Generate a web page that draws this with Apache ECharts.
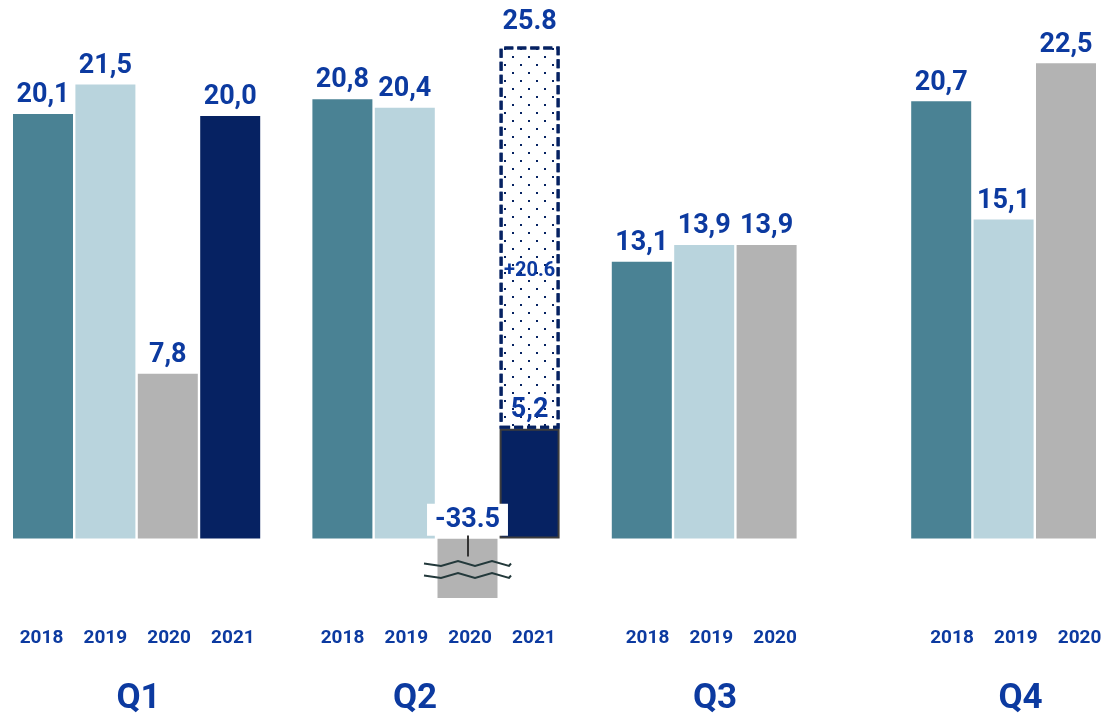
<!DOCTYPE html>
<html>
<head>
<meta charset="utf-8">
<script src="https://cdn.jsdelivr.net/npm/echarts@6/dist/echarts.min.js"></script>
<style>
  html, body { margin: 0; padding: 0; background: #ffffff; }
  #chart { width: 1107px; height: 718px; }
</style>
</head>
<body>
<div id="chart"></div>
<script>
// Quarterly values per year
const quarters = ['Q1', 'Q2', 'Q3', 'Q4'];
const yearsPerQuarter = [
  ['2018', '2019', '2020', '2021'],
  ['2018', '2019', '2020', '2021'],
  ['2018', '2019', '2020'],
  ['2018', '2019', '2020']
];
const values2018 = [20.1, 20.8, 13.1, 20.7];
const values2019 = [21.5, 20.4, 13.9, 15.1];
const values2020 = [7.8, null, 13.9, 22.5];
const values2021 = [20.0, 5.2, null, null];
// Q2 2020 collapse and the Q2 2021 rebound on top of the 5.2 level
const q2Value2020 = [-33.5];
const q2Rebound2021 = [null, 20.6, null, null];

const BLUE = '#0c3aa0';
const NAVY = '#062262';
const FONT = 'Roboto, "Noto Sans", sans-serif';

const comma = v => v.toFixed(1).replace('.', ',');

// horizontal nudges of the tick text blocks (px)
const yearShift = [0.6, 2.2, 7.8, 12.9];
const quarterShift = [1.9, -21, -20.4, -14.3];
const SLOT = 63.8;

function shifted(core, shift, idx) {
  if (shift > 0.5) return '{s' + idx + '|}' + core;
  if (shift < -0.5) return core + '{s' + idx + '|}';
  return core;
}
function spacerRich(shifts) {
  const r = {};
  shifts.forEach((s, i) => { r['s' + i] = { width: Math.abs(s) * 2, height: 1 }; });
  return r;
}

const yearRich = Object.assign({
  y: { width: SLOT, align: 'center', fontSize: 19, fontWeight: 'bold', color: BLUE, fontFamily: FONT, lineHeight: 22 },
  e: { width: SLOT, fontSize: 19, lineHeight: 22 }
}, spacerRich(yearShift));

const quarterRich = Object.assign({
  q: { fontSize: 35, fontWeight: 'bold', color: BLUE, fontFamily: FONT, lineHeight: 40 }
}, spacerRich(quarterShift));

const valueLabel = {
  show: true,
  position: 'top',
  distance: 5,
  color: BLUE,
  fontSize: 27,
  fontWeight: 'bold',
  fontFamily: FONT,
  formatter: p => comma(p.value)
};

function yearSeries(name, values, color, extra) {
  return Object.assign({
    name: name,
    type: 'bar',
    xAxisIndex: 0,
    yAxisIndex: 0,
    barWidth: 60,
    barGap: '4%',
    clip: false,
    data: values.map(v => (v === null ? '-' : v)),
    itemStyle: { color: color },
    label: valueLabel
  }, extra || {});
}

const option = {
  animation: false,
  backgroundColor: '#ffffff',
  grid: [
    // quarter groups are centred on the category points
    { left: 136.6, right: 72.2, top: 10.5, bottom: 179.5, outerBoundsMode: 'none', containLabel: false },
    { left: 424, width: 87, top: 10.5, bottom: 120, outerBoundsMode: 'none', containLabel: false }
  ],
  xAxis: [
    {
      gridIndex: 0, type: 'category', position: 'bottom', boundaryGap: false, data: quarters,
      axisLine: { show: false }, axisTick: { show: false }, splitLine: { show: false },
      axisLabel: {
        interval: 0, margin: 89,
        formatter: (val, idx) => {
          const ys = yearsPerQuarter[idx];
          let core = ys.map(y => '{y|' + y + '}').join('');
          for (let k = ys.length; k < 4; k++) core += '{e| }';
          return shifted(core, yearShift[idx], idx);
        },
        rich: yearRich
      }
    },
    {
      gridIndex: 0, type: 'category', position: 'bottom', boundaryGap: false, data: quarters,
      axisLine: { show: false }, axisTick: { show: false }, splitLine: { show: false },
      axisLabel: {
        interval: 0, margin: 141,
        formatter: (val, idx) => shifted('{q|' + val + '}', quarterShift[idx], idx),
        rich: quarterRich
      }
    },
    { gridIndex: 1, type: 'category', data: ['Q2'], show: false }
  ],
  yAxis: [
    { gridIndex: 0, type: 'value', min: 0, max: 25, show: false },
    // schematic scale for the rebound box drawn above the Q2 2021 bar
    { gridIndex: 0, type: 'value', min: -0.718, max: 27.74, show: false },
    {
      gridIndex: 1, type: 'value', min: -33.5, max: 25,
      axisLine: { show: false }, axisTick: { show: false },
      axisLabel: { show: false }, splitLine: { show: false },
      breaks: [{ start: -32.43, end: -1.16, gap: 0.58 }],
      breakArea: {
        show: true,
        expandOnClick: false,
        zigzagAmplitude: 2.4,
        zigzagMinSpan: 17,
        zigzagMaxSpan: 17,
        zigzagZ: 100,
        itemStyle: {
          color: 'rgba(255,255,255,0)',
          borderColor: '#23393b',
          borderWidth: 2,
          borderType: 'solid',
          opacity: 1
        }
      }
    }
  ],
  series: [
    yearSeries('2018', values2018, '#4a8294'),
    yearSeries('2019', values2019, '#b9d4dd'),
    yearSeries('2020', values2020, '#b3b3b3'),
    yearSeries('2021', values2021, NAVY, {
      stack: 'y2021',
      data: values2021.map((v, i) => {
        if (v === null) return '-';
        if (q2Rebound2021[i] !== null) {
          return { value: v, itemStyle: { color: NAVY, borderColor: '#3d3d3d', borderWidth: 2 } };
        }
        return v;
      })
    }),
    {
      name: 'rebound',
      type: 'bar',
      xAxisIndex: 0,
      yAxisIndex: 1,
      stack: 'y2021',
      barWidth: 60,
      barGap: '4%',
      clip: false,
      data: q2Rebound2021.map(v => (v === null ? '-' : v)),
      itemStyle: {
        color: '#ffffff',
        borderColor: NAVY,
        borderWidth: 3,
        borderType: [9, 4],
        decal: {
          symbol: 'rect',
          symbolSize: 1,
          color: NAVY,
          dashArrayX: [[2, 14], [0, 8, 2, 6]],
          dashArrayY: [2, 5.75],
          rotation: 0
        }
      },
      label: {
        show: true,
        position: 'inside',
        offset: [0, -91.6],
        formatter: p => {
          const total = values2021[p.dataIndex] + p.value;
          return '{t|' + total.toFixed(1) + '}\n{g|}\n{v|+' + p.value.toFixed(1) + '}';
        },
        rich: {
          t: { fontSize: 27, fontWeight: 'bold', color: BLUE, fontFamily: FONT, lineHeight: 32 },
          g: { height: 218, lineHeight: 218 },
          v: { fontSize: 20, fontWeight: 'bold', color: BLUE, fontFamily: FONT, lineHeight: 30 }
        }
      }
    },
    {
      name: '2020 Q2',
      type: 'bar',
      xAxisIndex: 2,
      yAxisIndex: 2,
      barWidth: 60,
      data: q2Value2020,
      itemStyle: { color: '#b3b3b3' },
      label: {
        show: true,
        position: 'top',
        distance: 3,
        color: BLUE,
        fontSize: 27,
        fontWeight: 'bold',
        fontFamily: FONT,
        backgroundColor: '#ffffff',
        padding: [3, 8, 2, 8],
        formatter: p => p.value.toFixed(1)
      },
      // short pointer from the value box down into the bar
      markLine: {
        silent: true,
        symbol: 'none',
        label: { show: false },
        lineStyle: { color: '#333333', width: 2, type: 'solid' },
        data: [[{ xAxis: 'Q2', yAxis: 0.15 }, { xAxis: 'Q2', yAxis: -0.85 }]]
      }
    }
  ]
};

const chart = echarts.init(document.getElementById('chart'), null, { renderer: 'canvas' });
chart.setOption(option);
</script>
</body>
</html>
